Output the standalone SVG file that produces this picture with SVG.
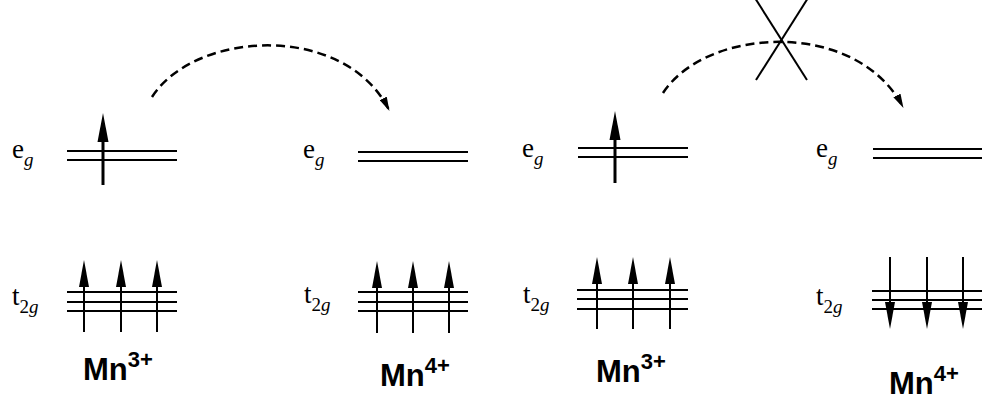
<svg xmlns="http://www.w3.org/2000/svg" xmlns:xlink="http://www.w3.org/1999/xlink" width="990" height="400" viewBox="0 0 990 400">
<style>
.lvl{stroke:#000;stroke-width:2;fill:none}
.shaft{stroke:#000;stroke-width:2;fill:none}
.shaftB{stroke:#000;stroke-width:3;fill:none}
.head{fill:#000;stroke:none}
.lab{font-family:"Liberation Serif","Times New Roman",serif;font-size:27px;fill:#000}
.sub{font-size:19px}
.it{font-style:italic}
.ion{font-family:"Liberation Sans",Arial,sans-serif;font-size:31px;font-weight:bold;fill:#000}
.sup{font-size:22px}
.dash{stroke:#000;stroke-width:2.5;fill:none;stroke-dasharray:9 5}
.cross{stroke:#000;stroke-width:2;fill:none}
</style>
<defs>
<g id="up"><line class="shaft" x1="0" y1="10" x2="0" y2="72"/><path class="head" d="M0,0 L5,27 L-5,27 Z"/></g>
<g id="upB"><line class="shaftB" x1="0" y1="10" x2="0" y2="72"/><path class="head" d="M0,0 L5.5,29 L-5.5,29 Z"/></g>
<marker id="ah" viewBox="0 0 14 8" refX="13" refY="4" markerWidth="14" markerHeight="8" markerUnits="userSpaceOnUse" orient="auto"><path d="M0,0 L14,4 L0,8 Z" fill="#000"/></marker>
</defs>

<g id="mn3-left">
<text class="lab" x="12" y="158">e<tspan class="sub it" dy="8">g</tspan></text>
<line class="lvl" x1="67" y1="151" x2="177" y2="151"/>
<line class="lvl" x1="67" y1="160" x2="177" y2="160"/>
<use href="#upB" x="103" y="113"/>
<text class="lab" x="12" y="305">t<tspan class="sub" dy="8">2</tspan><tspan class="sub it">g</tspan></text>
<line class="lvl" x1="67" y1="292" x2="177" y2="292"/>
<line class="lvl" x1="67" y1="302" x2="177" y2="302"/>
<line class="lvl" x1="67" y1="311" x2="177" y2="311"/>
<use href="#up" x="84" y="260"/>
<use href="#up" x="121" y="260"/>
<use href="#up" x="157" y="260"/>
<text class="ion" x="83" y="380">Mn<tspan class="sup" dy="-13">3+</tspan></text>
</g>

<g id="mn4-left">
<text class="lab" x="303" y="158">e<tspan class="sub it" dy="8">g</tspan></text>
<line class="lvl" x1="358" y1="152" x2="468" y2="152"/>
<line class="lvl" x1="358" y1="161" x2="468" y2="161"/>
<text class="lab" x="304" y="303">t<tspan class="sub" dy="8">2</tspan><tspan class="sub it">g</tspan></text>
<line class="lvl" x1="358" y1="292" x2="468" y2="292"/>
<line class="lvl" x1="358" y1="302" x2="468" y2="302"/>
<line class="lvl" x1="358" y1="311" x2="468" y2="311"/>
<use href="#up" x="377" y="261"/>
<use href="#up" x="413" y="261"/>
<use href="#up" x="449" y="261"/>
<text class="ion" x="380" y="386">Mn<tspan class="sup" dy="-13">4+</tspan></text>
</g>

<g id="mn3-right">
<text class="lab" x="522" y="157">e<tspan class="sub it" dy="8">g</tspan></text>
<line class="lvl" x1="578" y1="148" x2="688" y2="148"/>
<line class="lvl" x1="578" y1="157" x2="688" y2="157"/>
<use href="#upB" x="615" y="111"/>
<text class="lab" x="523" y="303">t<tspan class="sub" dy="8">2</tspan><tspan class="sub it">g</tspan></text>
<line class="lvl" x1="577" y1="290" x2="688" y2="290"/>
<line class="lvl" x1="577" y1="299" x2="688" y2="299"/>
<line class="lvl" x1="577" y1="309" x2="688" y2="309"/>
<use href="#up" x="597" y="257"/>
<use href="#up" x="633" y="257"/>
<use href="#up" x="670" y="257"/>
<text class="ion" x="596" y="382">Mn<tspan class="sup" dy="-13">3+</tspan></text>
</g>

<g id="mn4-right">
<text class="lab" x="816" y="157">e<tspan class="sub it" dy="8">g</tspan></text>
<line class="lvl" x1="873" y1="149" x2="982" y2="149"/>
<line class="lvl" x1="873" y1="158" x2="982" y2="158"/>
<text class="lab" x="816" y="305">t<tspan class="sub" dy="8">2</tspan><tspan class="sub it">g</tspan></text>
<line class="lvl" x1="872" y1="291" x2="982" y2="291"/>
<line class="lvl" x1="872" y1="300" x2="982" y2="300"/>
<line class="lvl" x1="872" y1="309" x2="982" y2="309"/>
<use href="#up" transform="translate(890,329) scale(1,-1)"/>
<use href="#up" transform="translate(927,329) scale(1,-1)"/>
<use href="#up" transform="translate(963,329) scale(1,-1)"/>
<text class="ion" x="889" y="394">Mn<tspan class="sup" dy="-13">4+</tspan></text>
</g>

<g id="connectors">
<path class="dash" d="M152,97 C195,30 345,22 389,110" marker-end="url(#ah)"/>
<path class="dash" d="M663,93 C706,27 856,18 903,107" marker-end="url(#ah)"/>
<line class="cross" x1="755" y1="-2" x2="807" y2="80"/>
<line class="cross" x1="808" y1="-2" x2="756" y2="80"/>
</g>
</svg>
